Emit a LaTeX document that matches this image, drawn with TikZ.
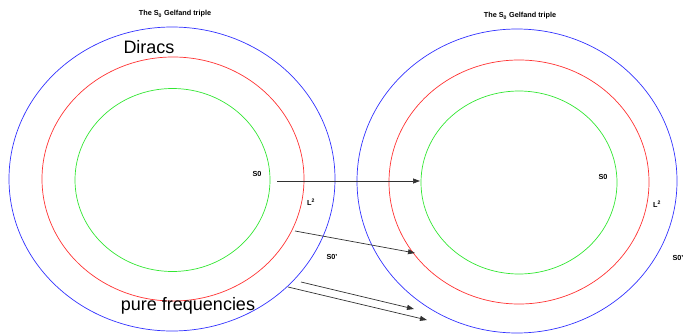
\documentclass[tikz,border=0pt]{standalone}
\usepackage{fontspec}
\setmainfont{Liberation Sans}
\usetikzlibrary{shapes.geometric,arrows.meta}
\definecolor{cblue}{RGB}{50,50,255}
\definecolor{cred}{RGB}{255,50,50}
\definecolor{cgreen}{RGB}{50,230,50}
\definecolor{carrow}{RGB}{50,50,50}
\begin{document}
\begin{tikzpicture}[x=1pt,y=-1pt,
  ring/.style={draw,ellipse,inner sep=0pt,line width=0.7pt},
  lab/.style={font=\fontsize{7.3}{8}\selectfont\bfseries,inner sep=0pt},
  big/.style={font=\fontsize{18}{20}\selectfont,inner sep=0pt},
  conn/.style={draw=carrow,line width=0.7pt,-{Triangle[length=7pt,width=5pt]}}]
\useasboundingbox (0,0) rectangle (684,334);
% left triple
\node[ring,cblue,minimum width=326pt,minimum height=304pt] (LB) at (172,179) {};
\node[ring,cred,minimum width=262pt,minimum height=244pt] (LR) at (173,179) {};
\node[ring,cgreen,minimum width=195pt,minimum height=183pt] (LG) at (172.5,180) {};
% right triple
\node[ring,cblue,minimum width=320pt,minimum height=304pt] (RB) at (517,181) {};
\node[ring,cred,minimum width=260pt,minimum height=244pt] (RR) at (519,182) {};
\node[ring,cgreen,minimum width=196pt,minimum height=183pt] (RG) at (519,182.5) {};
% titles
\node[lab] (T1) at (175,14) {The S\textsubscript{0} Gelfand triple};
\node[lab] (T2) at (520,16) {The S\textsubscript{0} Gelfand triple};
\node[big] (dir) at (149,47) {Diracs};
\node[big] (pf) at (188,306) {pure frequencies};
% labels
\node[lab] (LS0) at (257,174) {S0};
\node[lab] (LL2) at (311,202) {L\textsuperscript{2}};
\node[lab] (LS0p) at (332,257) {S0'};
\node[lab] (RS0) at (603,177) {S0};
\node[lab] (RL2) at (657,204) {L\textsuperscript{2}};
\node[lab] (RS0p) at (678,258) {S0'};
% connector end points
\coordinate (a1) at (277,181);
\coordinate (b1) at (420,181);
\coordinate (a2) at (295,231);
\coordinate (b2) at (415,253);
\coordinate (a3) at (301,282);
\coordinate (b3) at (414,309);
\coordinate (a4) at (288,287);
\coordinate (b4) at (427,320);
\draw[conn] (a1) -- (b1);
\draw[conn] (a2) -- (b2);
\draw[conn] (a3) -- (b3);
\draw[conn] (a4) -- (b4);
\end{tikzpicture}
\end{document}
